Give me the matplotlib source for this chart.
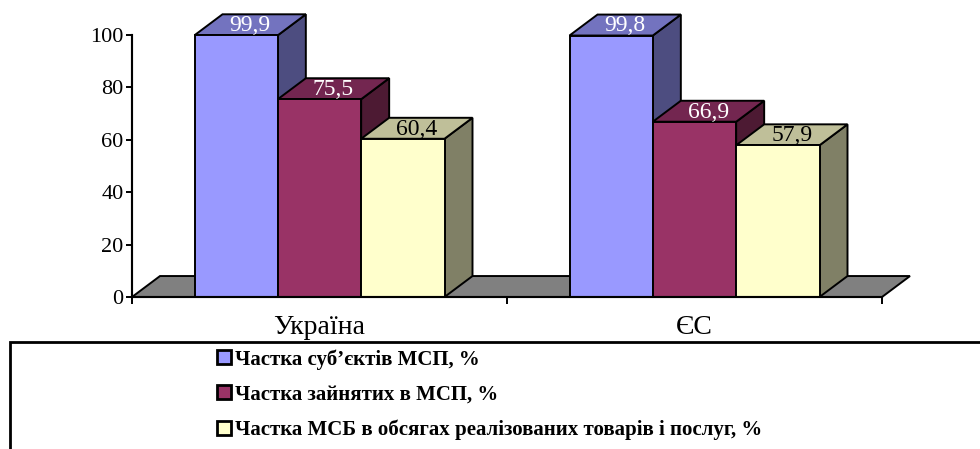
import matplotlib
matplotlib.use('Agg')
import matplotlib.pyplot as plt
from matplotlib.patches import Polygon, Rectangle, Patch

# ---------------- data ----------------
categories = ['Україна', 'ЄС']
series_names = ['Частка суб’єктів МСП, %',
                'Частка зайнятих в МСП, %',
                'Частка МСБ в обсягах реалізованих товарів і послуг, %']
sme_entities_share = [99.9, 99.8]
sme_employment_share = [75.5, 66.9]
sme_sales_share = [60.4, 57.9]
y_ticks = [0, 20, 40, 60, 80, 100]

# ---------------- style ----------------
front_colors = ['#9999FF', '#993366', '#FFFFCC']
top_colors = ['#7373BF', '#732650', '#BFBF99']
side_colors = ['#4D4D80', '#4D1A33', '#808066']
label_colors = ['white', 'white', 'black']
floor_color = '#808080'
EDGE_LW = 1.4
SERIF = ['Liberation Serif', 'DejaVu Serif']

plt.rcParams['font.family'] = SERIF

series = [sme_entities_share, sme_employment_share, sme_sales_share]
n_cat = len(categories)
n_ser = len(series)
bar_w = 1 / 4.5                   # Excel gap width 150 %
DX = 28 / 375                     # depth offset, in category units
DY = 8.0                          # depth offset, in value units

fig = plt.figure(figsize=(9.8, 4.49), dpi=100)
ax = fig.add_axes([132 / 980, 152 / 449, 750 / 980, 262 / 449])
ax.set_xlim(0, n_cat)
ax.set_ylim(0, 100)

# floor
floor = Polygon([(0, 0), (n_cat, 0), (n_cat + DX, DY), (DX, DY)], closed=True,
                facecolor=floor_color, edgecolor='black', lw=EDGE_LW,
                clip_on=False, zorder=1, joinstyle='miter')
ax.add_patch(floor)

z = 2
for c in range(n_cat):
    left0 = c + (1 - n_ser * bar_w) / 2
    for s in range(n_ser):
        v = series[s][c]
        x0 = left0 + s * bar_w
        x1 = x0 + bar_w
        side = Polygon([(x1, 0), (x1, v), (x1 + DX, v + DY), (x1 + DX, DY)],
                       closed=True, facecolor=side_colors[s], edgecolor='black',
                       lw=EDGE_LW, clip_on=False, zorder=z, joinstyle='miter')
        top = Polygon([(x0, v), (x1, v), (x1 + DX, v + DY), (x0 + DX, v + DY)],
                      closed=True, facecolor=top_colors[s], edgecolor='black',
                      lw=EDGE_LW, clip_on=False, zorder=z, joinstyle='miter')
        front = Rectangle((x0, 0), bar_w, v, facecolor=front_colors[s],
                          edgecolor='black', lw=EDGE_LW, clip_on=False,
                          zorder=z, joinstyle='miter')
        ax.add_patch(side)
        ax.add_patch(top)
        ax.add_patch(front)
        ax.text(x0 + bar_w / 2 + DX / 2, v + DY / 2 - 0.3,
                f'{v:.1f}'.replace('.', ','), ha='center', va='center',
                color=label_colors[s], fontsize=17, zorder=50, clip_on=False)
        z += 1

# axes styling
for sp in ['top', 'right']:
    ax.spines[sp].set_visible(False)
ax.spines['left'].set_linewidth(EDGE_LW * 1.1)
ax.spines['bottom'].set_linewidth(EDGE_LW * 1.1)
ax.spines['left'].set_zorder(60)
ax.spines['bottom'].set_zorder(60)
ax.set_yticks(y_ticks)
ax.set_yticklabels([str(t) for t in y_ticks], fontsize=16)
ax.tick_params(axis='y', direction='out', length=4, width=EDGE_LW, pad=2)
ax.set_xticks(range(n_cat + 1))
ax.set_xticklabels([''] * (n_cat + 1))
ax.tick_params(axis='x', which='major', direction='out', length=5, width=EDGE_LW)
ax.set_xticks([c + 0.5 for c in range(n_cat)], minor=True)
ax.set_xticklabels(categories, minor=True, fontsize=20)
ax.tick_params(axis='x', which='minor', length=0, pad=13)

# legend frame (extends beyond the figure)
frame = Rectangle((10 / 980, -0.2), 1.2, 0.2 + 107 / 449,
                  transform=fig.transFigure, fill=False, edgecolor='black',
                  lw=2.0, clip_on=False)
fig.add_artist(frame)

handles = [Patch(facecolor=front_colors[s], edgecolor='black', lw=2.0)
           for s in range(n_ser)]
fig.legend(handles, series_names, loc='upper left',
           bbox_to_anchor=(217 / 980, 1 - 349 / 449),
           frameon=False, prop={'family': SERIF, 'weight': 'bold', 'size': 15},
           handlelength=0.68, handleheight=0.68, handletextpad=0.2,
           labelspacing=0.72, borderpad=0, borderaxespad=0)

fig.savefig('out.png', dpi=100)
